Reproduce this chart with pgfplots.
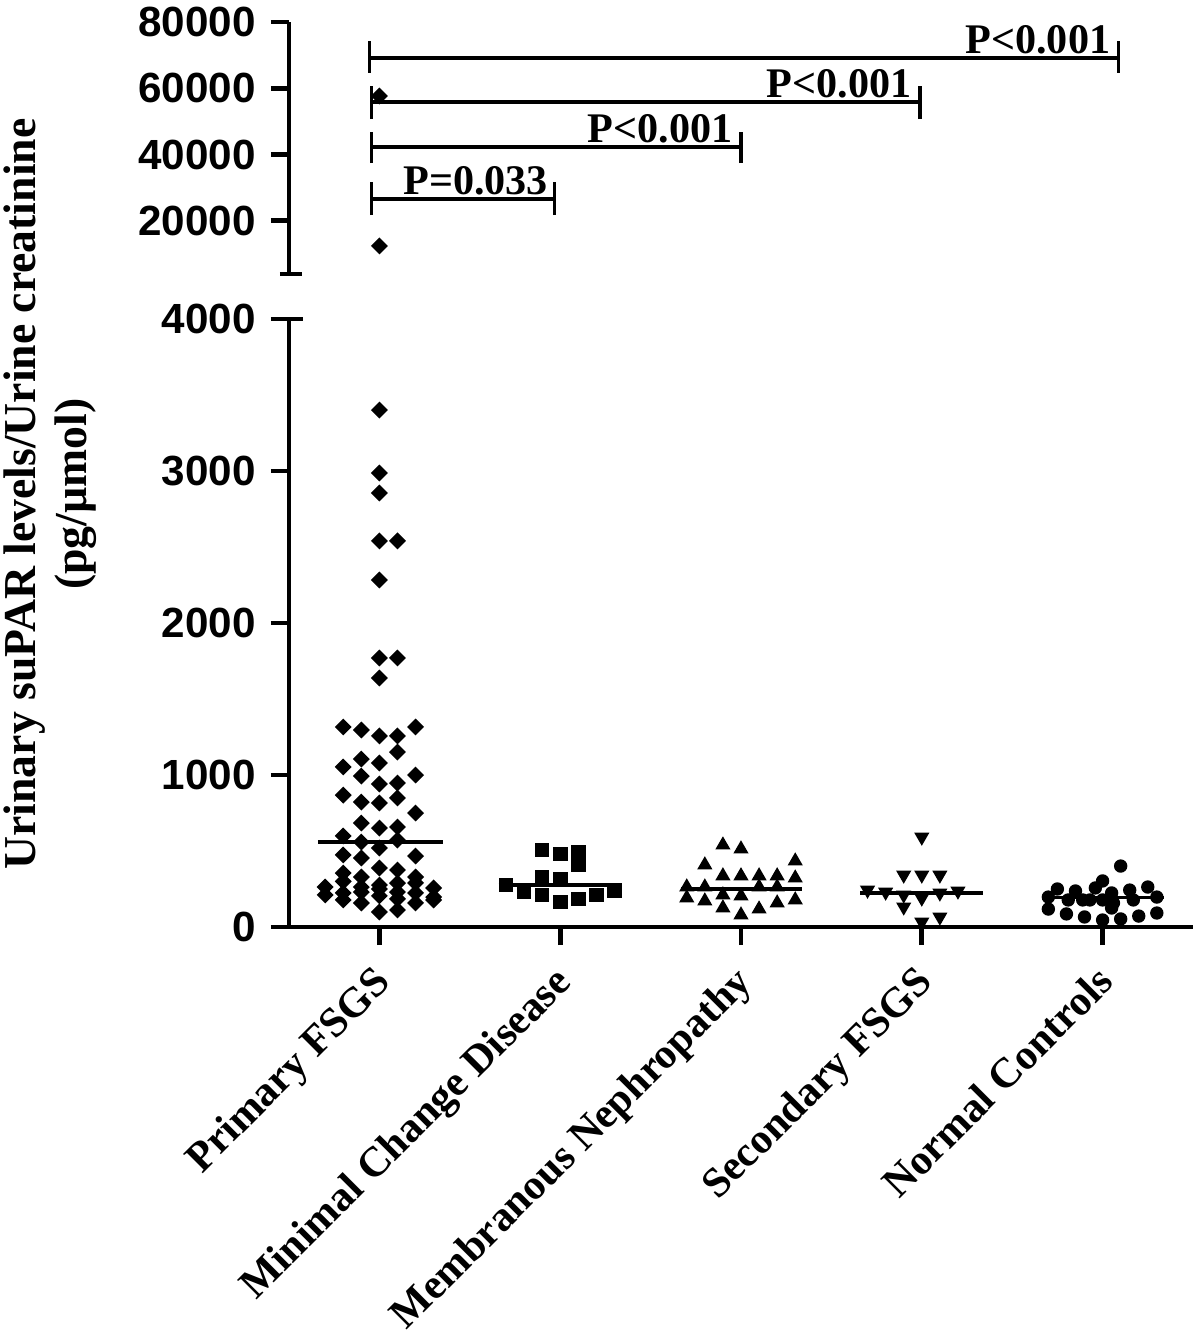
\documentclass[border=0pt]{standalone}
\usepackage{pgfplots}
\pgfplotsset{compat=1.18}
\usepackage{fontspec}
\setmainfont{Liberation Serif}
\setsansfont{Liberation Sans}

\tikzset{brk/.style={line width=0.9pt, black}}
\pgfplotsset{
  base/.style={
    scale only axis, width=9.04cm, xmin=-0.5, xmax=4.5, clip=false,
    scaled y ticks=false,
    axis line style={line width=1.4pt, -},
    tick style={line width=1.4pt, black},
    major tick length=0.18cm, tick align=outside,
    yticklabel style={font=\sffamily\bfseries\fontsize{12}{14}\selectfont, xshift=-0.03cm},
  },
  diam/.style={only marks, mark=square*, mark size=1.5pt, mark options={rotate=45, fill=black, draw=black}},
  sq/.style={only marks, mark=square*, mark size=1.9pt, mark options={fill=black, draw=black}},
  tri/.style={only marks, mark=triangle*, mark size=2.1pt, mark options={fill=black, draw=black}},
  itri/.style={only marks, mark=triangle*, mark size=2.1pt, mark options={rotate=180, fill=black, draw=black}},
  circ/.style={only marks, mark=*, mark size=1.7pt, mark options={fill=black, draw=black}},
  med/.style={no marks, line width=1pt, black},
}

\begin{document}
\begin{tikzpicture}
% ---------------- bottom axis ----------------
\begin{axis}[base, height=6.08cm, ymin=0, ymax=4000,
  axis x line*=bottom, axis y line*=left,
  xtick={0,1,2,3,4},
  xticklabels={Primary FSGS, Minimal Change Disease, Membranous Nephropathy, Secondary FSGS, Normal Controls},
  xticklabel style={font=\bfseries\fontsize{12}{14}\selectfont, rotate=45, anchor=north east, xshift=-0.065cm, yshift=0.05cm},
  ytick={0,1000,2000,3000,4000},
  yticklabels={0,1000,2000,3000,4000},
]
% Primary FSGS
\addplot[diam] coordinates {
(0,3401) (0,2987) (0,2855) (0,2540) (0.1,2540) (0,2283) (0,1770) (0.1,1770) (0,1638)
(-0.2,1316) (-0.1,1296) (0,1257) (0.1,1257) (0.2,1316)
(0.1,1151) (-0.1,1105) (0,1079) (-0.2,1053)
(-0.1,993) (0.2,1000) (0,941) (0.1,947)
(-0.2,868) (-0.1,822) (0,816) (0.1,849) (0.2,750)
(-0.1,684) (0,651) (0.1,658)
(-0.2,599) (-0.1,559) (0.1,572) (0,520)
(-0.2,474) (-0.1,454) (0.2,467)
(0,388) (-0.2,355) (0.1,375) (0.2,329) (-0.1,329)
(-0.3,263) (-0.1,263) (0,276) (0.1,289) (0.3,257) (-0.2,300) (0.2,290)
(-0.3,211) (-0.2,224) (0.2,224) (0.3,197) (-0.1,230) (0.1,230) (0,250) (0,205)
(-0.2,178) (-0.1,158) (0.2,158) (0.3,178) (0.1,185)
(0,99) (0.1,112)
};
\addplot[med] coordinates {(-0.34,559) (0.35,559)};
% Minimal Change Disease
\addplot[sq] coordinates {
(0.9,507) (1,480) (1.1,493) (1.1,408) (0.9,329) (1,316) (0.7,276) (0.8,230)
(0.9,211) (1,164) (1.1,184) (1.2,211) (1.3,237)
};
\addplot[med] coordinates {(0.66,276) (1.34,276)};
% Membranous Nephropathy
\addplot[tri] coordinates {
(1.9,539) (2,513) (1.8,408) (2.3,434) (1.9,336) (2,336) (2.1,336) (2.2,336) (2.3,322)
(1.7,263) (1.8,263) (2.1,263) (2.2,263)
(1.7,191) (1.8,171) (1.9,211) (2,204) (2.2,158) (2.3,178)
(1.9,125) (2.1,118) (2,79)
};
\addplot[med] coordinates {(1.67,250) (2.34,250)};
% Secondary FSGS
\addplot[itri] coordinates {
(3,592) (2.9,342) (3,342) (3.1,342) (2.7,243) (2.8,230) (2.9,211) (3,191)
(3.1,224) (3.2,237) (2.9,132) (3.1,66) (3,33)
};
\addplot[med] coordinates {(2.66,224) (3.34,224)};
% Normal Controls
\addplot[circ] coordinates {
(3.70,118) (3.80,86) (3.90,66) (4.00,46) (4.10,53) (4.20,72) (4.30,92)
(3.75,250) (3.85,237) (3.70,197) (4.05,224) (4.15,243) (4.25,263) (4.30,197) (4.10,401)
(4.00,303) (3.96,257) (3.93,178) (4.00,178) (4.06,158) (4.17,178) (3.81,178) (4.05,125) (3.89,178)
};
\addplot[med] coordinates {(3.67,195) (4.34,195)};
\draw[line width=1.4pt] (axis cs:-0.5,4000) -- (axis cs:-0.4225,4000);
\end{axis}
% ---------------- top axis ----------------
\begin{axis}[base, at={(0,6.53cm)}, anchor=south west, height=2.52cm, ymin=4000, ymax=80000,
  axis x line=none, axis y line*=left,
  ytick={20000,40000,60000,80000},
  yticklabels={20000,40000,60000,80000},
]
\addplot[diam] coordinates {(0,57675) (0,12460)};
% significance brackets
\draw[brk] (axis cs:-0.055,69140) -- (axis cs:4.09,69140);
\draw[brk] (axis cs:-0.055,64620) -- (axis cs:-0.055,74270);
\draw[brk] (axis cs:4.09,64620) -- (axis cs:4.09,74270);
\node[anchor=base east, font=\bfseries\fontsize{12}{14}\selectfont, inner sep=0pt] at ([xshift=-0.08cm,yshift=0.05cm]axis cs:4.09,69140) {P<0.001};
\draw[brk] (axis cs:-0.045,55870) -- (axis cs:2.99,55870);
\draw[brk] (axis cs:-0.045,50740) -- (axis cs:-0.045,60700);
\draw[brk] (axis cs:2.99,50740) -- (axis cs:2.99,60700);
\node[anchor=base east, font=\bfseries\fontsize{12}{14}\selectfont, inner sep=0pt] at ([xshift=-0.08cm,yshift=0.05cm]axis cs:2.99,55870) {P<0.001};
\draw[brk] (axis cs:-0.045,42290) -- (axis cs:2.0,42290);
\draw[brk] (axis cs:-0.045,37470) -- (axis cs:-0.045,46820);
\draw[brk] (axis cs:2.0,37470) -- (axis cs:2.0,46820);
\node[anchor=base east, font=\bfseries\fontsize{12}{14}\selectfont, inner sep=0pt] at ([xshift=-0.08cm,yshift=0.05cm]axis cs:2.0,42290) {P<0.001};
\draw[brk] (axis cs:-0.045,26610) -- (axis cs:0.97,26610);
\draw[brk] (axis cs:-0.045,21780) -- (axis cs:-0.045,31740);
\draw[brk] (axis cs:0.97,21780) -- (axis cs:0.97,31740);
\node[anchor=base east, font=\bfseries\fontsize{12}{14}\selectfont, inner sep=0pt] at ([xshift=-0.06cm,yshift=0.05cm]axis cs:0.97,26610) {P=0.033};
\draw[line width=1.4pt] (axis cs:-0.55,4000) -- (axis cs:-0.428,4000);
\end{axis}
% y label
\node[rotate=90, align=center, font=\bfseries\fontsize{13}{14.5}\selectfont] at (-2.39cm,4.33cm)
  {Urinary suPAR levels/Urine creatinine\\(pg/µmol)};
\pgfresetboundingbox
\path (-2.89cm,-4.06cm) rectangle (9.11cm,9.27cm);
\end{tikzpicture}
\end{document}
